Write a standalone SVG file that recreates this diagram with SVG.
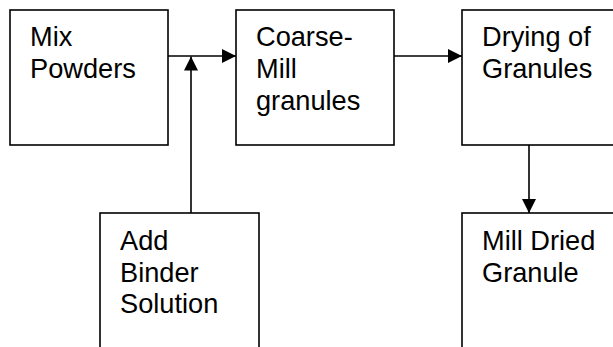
<svg xmlns="http://www.w3.org/2000/svg" width="613" height="347" viewBox="0 0 613 347">
<style>
.box{fill:#fff;stroke:#000;stroke-width:1.6}
.lbl{font-family:"Liberation Sans",Arial,sans-serif;font-size:27.2px;fill:#000}
.con{stroke:#000;stroke-width:1.6;fill:none}
</style>
<defs>
<marker id="ah" markerUnits="userSpaceOnUse" markerWidth="15" markerHeight="15" viewBox="0 0 15 15" refX="14" refY="7.5" orient="auto">
<path d="M0,0.5 L14,7.5 L0,14.5 Z" fill="#000"/>
</marker>
</defs>
<rect width="613" height="347" fill="#fff"/>
<g id="mix">
<rect class="box" x="10" y="10" width="158" height="135"/>
<text class="lbl" x="30" y="46">Mix</text>
<text class="lbl" x="30" y="78">Powders</text>
</g>
<g id="coarse">
<rect class="box" x="236" y="10" width="158" height="135"/>
<text class="lbl" x="256" y="46">Coarse-</text>
<text class="lbl" x="256" y="78">Mill</text>
<text class="lbl" x="256" y="110">granules</text>
</g>
<g id="drying">
<rect class="box" x="462" y="10" width="180" height="135"/>
<text class="lbl" x="482" y="46">Drying of</text>
<text class="lbl" x="482" y="78">Granules</text>
</g>
<g id="binder">
<rect class="box" x="100" y="213" width="159" height="150"/>
<text class="lbl" x="120" y="250">Add</text>
<text class="lbl" x="120" y="281.5">Binder</text>
<text class="lbl" x="120" y="313">Solution</text>
</g>
<g id="milldried">
<rect class="box" x="462" y="213" width="180" height="150"/>
<text class="lbl" x="482" y="250">Mill Dried</text>
<text class="lbl" x="482" y="281.5">Granule</text>
</g>
<g id="connectors">
<line class="con" x1="168" y1="56" x2="236" y2="56" marker-end="url(#ah)"/>
<line class="con" x1="191" y1="213" x2="191" y2="56.5" marker-end="url(#ah)"/>
<line class="con" x1="394" y1="56" x2="462" y2="56" marker-end="url(#ah)"/>
<line class="con" x1="529" y1="145" x2="529" y2="213" marker-end="url(#ah)"/>
</g>
</svg>
